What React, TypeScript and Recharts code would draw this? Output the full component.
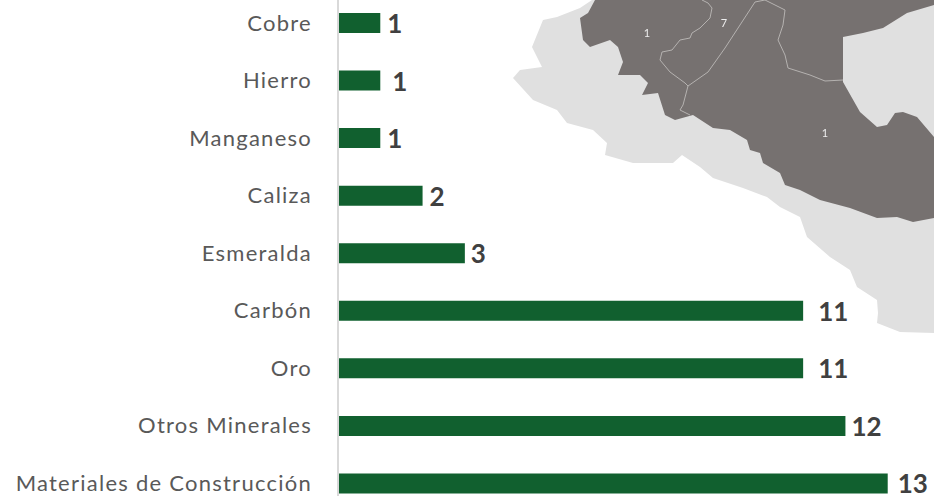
import { BarChart, Bar, XAxis, YAxis, LabelList } from 'recharts';

const minerals = ['Cobre', 'Hierro', 'Manganeso', 'Caliza', 'Esmeralda', 'Carbón', 'Oro', 'Otros Minerales', 'Materiales de Construcción'];
const titles = [1, 1, 1, 2, 3, 11, 11, 12, 13];

const chartData = minerals.map((name, i) => ({ name, value: titles[i] }));

const GREEN = '#11602f';
const TEXT = '#595959';
const VALUE_TEXT = '#404040';

// the value labels were placed by hand in the original, gap after each bar
const LABEL_GAPS = [7, 12, 7, 7, 6, 15, 15, 6, 10];

// background map
const LIGHT_MAP = '592,0 580,8 557,17 543,20 532,47 542,67 520,70 513,78 533,100 557,110 567,123 593,130 607,143 605,155 633,163 673,163 682,155 700,167 713,178 743,188 767,197 780,207 800,217 807,237 830,257 850,270 857,287 877,300 878,313 877,323 900,332 934,333 934,0';
const DARK_MAP = '595,0 588,13 580,18 583,40 590,47 610,40 618,47 623,62 618,75 640,75 648,83 642,95 658,93 665,115 675,120 693,115 713,128 730,130 747,140 750,150 760,153 763,163 780,173 785,185 800,190 820,200 850,208 877,218 897,217 913,222 934,218 934,137 917,117 903,112 895,113 887,125 877,127 860,112 843,82 843,37 863,33 883,28 907,13 934,5 934,0';
const BORDERS = [
  '702,0 708,3 712,8 710,18 700,28 692,33 690,38 680,40 672,50 662,52 660,60 670,72 685,83 688,86 708,72 725,48 755,2 765,0',
  '688,86 683,105 680,110 690,115',
  '765,0 785,10 783,25 778,40 785,55 788,68 810,75 825,81 843,80',
];

const MapBackdrop = () => (
  <svg width={934} height={496} style={{ position: 'absolute', left: 0, top: 0 }}>
    <defs>
      <filter id="soft"><feGaussianBlur stdDeviation="0.6" /></filter>
    </defs>
    <g filter="url(#soft)">
      <polygon points={LIGHT_MAP} fill="#e0e0e0" />
      <polygon points={DARK_MAP} fill="#767170" />
      {BORDERS.map((pts, i) => (
        <polyline key={i} points={pts} fill="none" stroke="#b5b2b0" strokeWidth={1} />
      ))}
      <text x={647} y={37} fontSize={11} fill="#eeeeee" textAnchor="middle" fontFamily="Lato">1</text>
      <text x={724} y={27} fontSize={11} fill="#eeeeee" textAnchor="middle" fontFamily="Lato">7</text>
      <text x={825} y={137} fontSize={11} fill="#eeeeee" textAnchor="middle" fontFamily="Lato">1</text>
    </g>
  </svg>
);

const ValueLabel = (props: any) => {
  const { x, y, width, height, value, index } = props;
  return (
    <text
      x={x + width + LABEL_GAPS[index]}
      y={y + height / 2}
      dominantBaseline="central"
      fill={VALUE_TEXT}
      fontSize={26}
      fontWeight={700}
    >
      {value}
    </text>
  );
};

const App = () => {
  return (
    <div style={{ position: 'absolute', left: 0, top: 0, width: 934, height: 496, overflow: 'hidden', background: '#fff' }}>
      <MapBackdrop />
      <div style={{ position: 'absolute', left: 0, top: -6 }}>
        <BarChart
          width={934}
          height={518}
          data={chartData}
          layout="vertical"
          margin={{ top: 0, right: 4, bottom: 0, left: 0 }}
          style={{ fontFamily: 'Lato, sans-serif' }}
        >
          <XAxis type="number" domain={[0, 14]} hide />
          <YAxis
            type="category"
            dataKey="name"
            width={338}
            interval={0}
            tickLine={false}
            tickMargin={20}
            axisLine={{ stroke: '#d9d9d9', strokeWidth: 2 }}
            tick={{ fill: TEXT, fontSize: 22, letterSpacing: 1.25 }}
          />
          <Bar dataKey="value" fill={GREEN} barSize={20} isAnimationActive={false}>
            <LabelList dataKey="value" content={ValueLabel} />
          </Bar>
        </BarChart>
      </div>
    </div>
  );
};

export default App;
